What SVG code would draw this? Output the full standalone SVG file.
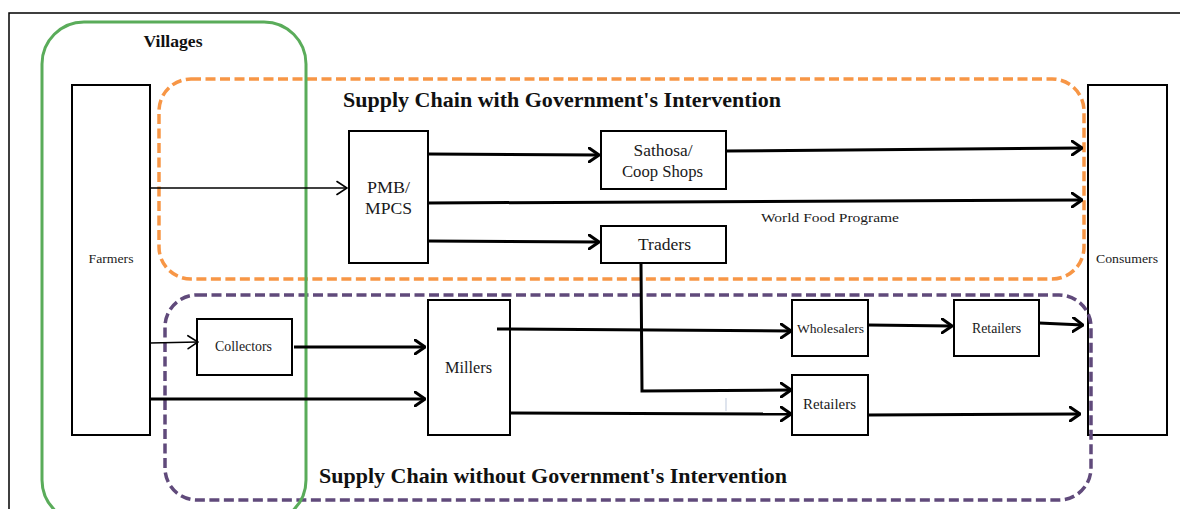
<svg xmlns="http://www.w3.org/2000/svg" width="1180" height="509" viewBox="0 0 1180 509">
  <style>
    .box { fill: #ffffff; stroke: #000000; stroke-width: 2; }
    .lbl { font-family: "Liberation Serif", "Times New Roman", serif; fill: #1a1a1a; text-anchor: middle; }
    .ttl { font-family: "Liberation Serif", "Times New Roman", serif; font-weight: bold; fill: #111111; text-anchor: middle; }
    .flow { fill: none; stroke: #000000; stroke-width: 3; marker-end: url(#chev); }
    .thin { fill: none; stroke: #000000; stroke-width: 1.5; marker-end: url(#chevThin); }
  </style>
  <defs>
    <marker id="chev" viewBox="0 0 12 16" refX="11" refY="8" markerWidth="12" markerHeight="16" markerUnits="userSpaceOnUse" orient="auto">
      <path d="M1,1 L11,8 L1,15" fill="none" stroke="#000000" stroke-width="3" stroke-linecap="round" stroke-linejoin="miter"/>
    </marker>
    <marker id="chevThin" viewBox="0 0 12 16" refX="11" refY="8" markerWidth="12" markerHeight="16" markerUnits="userSpaceOnUse" orient="auto">
      <path d="M1,1.5 L11,8 L1,14.5" fill="none" stroke="#000000" stroke-width="1.6" stroke-linecap="round"/>
    </marker>
  </defs>

  <rect width="1180" height="509" fill="#ffffff"/>

  <!-- page frame -->
  <path d="M9,509 L9,13 L1180,13" fill="none" stroke="#000000" stroke-width="1.5"/>

  <!-- nodes -->
  <g id="farmers">
    <rect class="box" x="72" y="85" width="78" height="350"/>
    <text class="lbl" x="111" y="263" font-size="13" textLength="45" lengthAdjust="spacingAndGlyphs">Farmers</text>
  </g>
  <g id="consumers">
    <rect class="box" x="1088" y="85" width="79" height="350"/>
    <text class="lbl" x="1127" y="263" font-size="13" textLength="62" lengthAdjust="spacingAndGlyphs">Consumers</text>
  </g>
  <g id="pmb">
    <rect class="box" x="349" y="131" width="79" height="132"/>
    <text class="lbl" x="388.5" y="193" font-size="16.5" textLength="43" lengthAdjust="spacingAndGlyphs">PMB/</text>
    <text class="lbl" x="388.5" y="214" font-size="16.5" textLength="47" lengthAdjust="spacingAndGlyphs">MPCS</text>
  </g>
  <g id="sathosa">
    <rect class="box" x="601" y="131" width="125" height="58"/>
    <text class="lbl" x="663" y="156" font-size="16" textLength="59" lengthAdjust="spacingAndGlyphs">Sathosa/</text>
    <text class="lbl" x="662.5" y="177" font-size="16" textLength="81" lengthAdjust="spacingAndGlyphs">Coop Shops</text>
  </g>
  <g id="traders">
    <rect class="box" x="601" y="226" width="125" height="37"/>
    <text class="lbl" x="664.5" y="250" font-size="16.5" textLength="53" lengthAdjust="spacingAndGlyphs">Traders</text>
  </g>
  <g id="collectors">
    <rect class="box" x="197" y="319" width="95" height="56"/>
    <text class="lbl" x="243.5" y="351" font-size="14" textLength="57" lengthAdjust="spacingAndGlyphs">Collectors</text>
  </g>
  <g id="millers">
    <rect class="box" x="428" y="300" width="82" height="135"/>
    <text class="lbl" x="468.5" y="373" font-size="16.5" textLength="47" lengthAdjust="spacingAndGlyphs">Millers</text>
  </g>
  <g id="wholesalers">
    <rect class="box" x="792" y="300" width="76" height="56"/>
    <text class="lbl" x="830.5" y="332.5" font-size="13.5" textLength="67" lengthAdjust="spacingAndGlyphs">Wholesalers</text>
  </g>
  <g id="retailers-a">
    <rect class="box" x="954" y="300" width="85" height="56"/>
    <text class="lbl" x="996.5" y="332.5" font-size="14" textLength="49" lengthAdjust="spacingAndGlyphs">Retailers</text>
  </g>
  <g id="retailers-b">
    <rect class="box" x="792" y="375" width="76" height="60"/>
    <text class="lbl" x="829.5" y="409" font-size="15" textLength="53" lengthAdjust="spacingAndGlyphs">Retailers</text>
  </g>

  <!-- regions, drawn over the boxes they overlap -->
  <g id="with-intervention">
    <rect x="159" y="79" width="925" height="200" rx="32" fill="none" stroke="#f79646" stroke-width="3.5" stroke-dasharray="10 4.5"/>
    <text class="ttl" x="562" y="107" font-size="20" textLength="438" lengthAdjust="spacingAndGlyphs">Supply Chain with Government's Intervention</text>
  </g>
  <g id="without-intervention">
    <rect x="165" y="295" width="926" height="205" rx="32" fill="none" stroke="#604a7b" stroke-width="3.5" stroke-dasharray="10 4.5"/>
    <text class="ttl" x="553" y="483" font-size="20" textLength="468" lengthAdjust="spacingAndGlyphs">Supply Chain without Government's Intervention</text>
  </g>
  <g id="villages">
    <rect x="42" y="22" width="264" height="500" rx="42" fill="none" stroke="#5aac5a" stroke-width="3"/>
    <text class="ttl" x="173" y="47" font-size="16" textLength="59" lengthAdjust="spacingAndGlyphs">Villages</text>
  </g>

  <!-- connectors -->
  <g id="connectors">
    <line class="thin" x1="150" y1="188" x2="347" y2="188"/>
    <line class="flow" x1="428" y1="154" x2="599" y2="155"/>
    <line class="flow" x1="726" y1="151" x2="1082" y2="148"/>
    <line class="flow" x1="428" y1="203" x2="1082" y2="200"/>
    <text class="lbl" x="830" y="221.5" font-size="13.5" textLength="138" lengthAdjust="spacingAndGlyphs">World Food Programe</text>
    <line class="flow" x1="428" y1="241" x2="599" y2="242"/>
    <polyline class="flow" points="641,264 642,391 791,390"/>
    <line class="thin" x1="150" y1="343" x2="198" y2="342"/>
    <line class="flow" x1="294" y1="347" x2="425" y2="347"/>
    <line class="flow" x1="150" y1="399" x2="425" y2="399"/>
    <line class="flow" x1="497" y1="329" x2="791" y2="331"/>
    <line class="flow" x1="511" y1="413" x2="791" y2="414"/>
    <line class="flow" x1="868" y1="325" x2="952" y2="326"/>
    <line class="flow" x1="1039" y1="323" x2="1083" y2="325"/>
    <line class="flow" x1="868" y1="415" x2="1080" y2="414"/>
    <line x1="726" y1="398" x2="726" y2="411" stroke="#c9d2e2" stroke-width="1.2"/>
  </g>
</svg>
